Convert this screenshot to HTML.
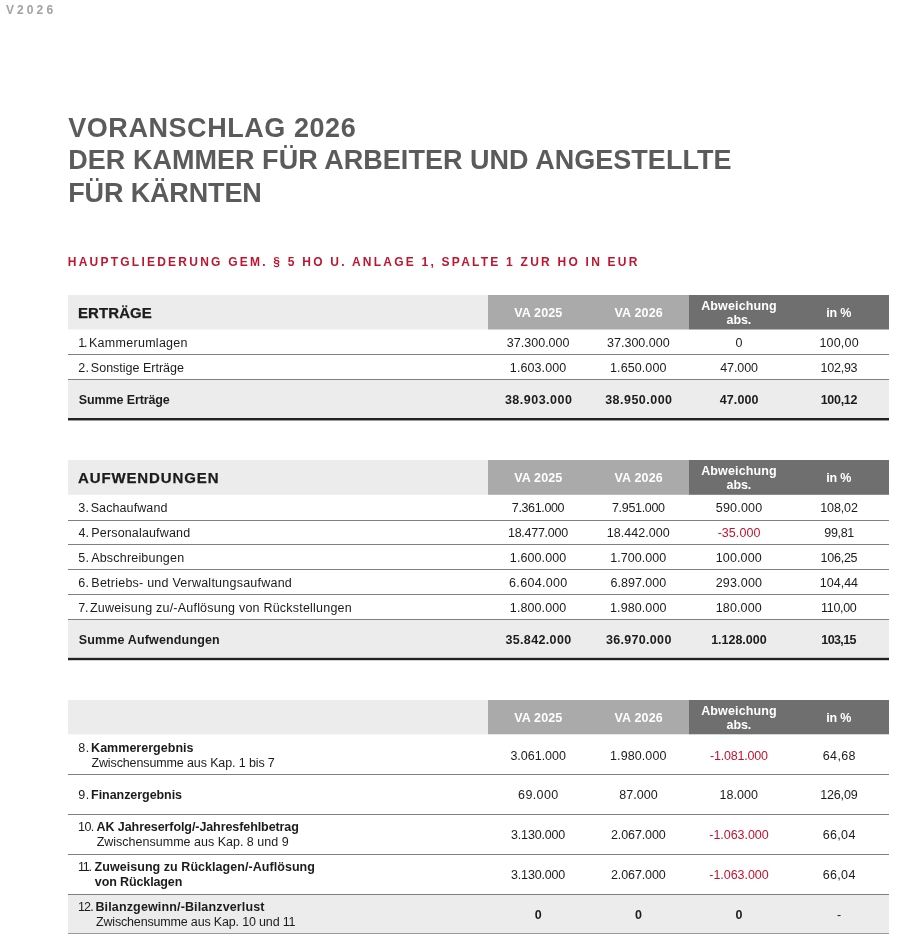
<!DOCTYPE html>
<html lang="de"><head><meta charset="utf-8"><title>Voranschlag 2026</title>
<style>
*{margin:0;padding:0;box-sizing:border-box}
html,body{width:900px;height:938px;background:#fff;overflow:hidden}
body{font-family:"Liberation Sans",sans-serif;color:#1c1c1c;position:relative;font-size:12.5px}
.x{position:absolute;white-space:nowrap;line-height:16px;height:16px}
.g{position:absolute}
.b{font-weight:bold}
.r{color:#c0142f}
.w{color:#fff;font-weight:bold}
.c{text-align:center}
</style></head><body>
<div class="g" style="left:68px;top:295px;width:420px;height:34px;background:#ececec"></div>
<div class="g" style="left:488px;top:295px;width:201px;height:34px;background:#aaaaaa"></div>
<div class="g" style="left:689px;top:295px;width:200px;height:34px;background:#6f6f6f"></div>
<div class="g" style="left:68px;top:329px;width:420px;height:1px;background:#f6f6f6"></div>
<div class="g" style="left:488px;top:329px;width:201px;height:1px;background:#d4d4d4"></div>
<div class="g" style="left:689px;top:329px;width:200px;height:1px;background:#b7b7b7"></div>
<div class="g" style="left:68px;top:354px;width:821px;height:1px;background:#808080"></div>
<div class="g" style="left:68px;top:379px;width:821px;height:1px;background:#808080"></div>
<div class="g" style="left:68px;top:380px;width:821px;height:38px;background:#ececec"></div>
<div class="g" style="left:68px;top:418px;width:821px;height:2px;background:#222"></div>
<div class="g" style="left:68px;top:420px;width:821px;height:1px;background:#9c9c9c"></div>
<div class="g" style="left:68px;top:460px;width:420px;height:34px;background:#ececec"></div>
<div class="g" style="left:488px;top:460px;width:201px;height:34px;background:#aaaaaa"></div>
<div class="g" style="left:689px;top:460px;width:200px;height:34px;background:#6f6f6f"></div>
<div class="g" style="left:68px;top:494px;width:420px;height:1px;background:#f0f0f0"></div>
<div class="g" style="left:488px;top:494px;width:201px;height:1px;background:#bbbbbb"></div>
<div class="g" style="left:689px;top:494px;width:200px;height:1px;background:#8c8c8c"></div>
<div class="g" style="left:68px;top:520px;width:821px;height:1px;background:#808080"></div>
<div class="g" style="left:68px;top:544px;width:821px;height:1px;background:#808080"></div>
<div class="g" style="left:68px;top:569px;width:821px;height:1px;background:#808080"></div>
<div class="g" style="left:68px;top:594px;width:821px;height:1px;background:#808080"></div>
<div class="g" style="left:68px;top:619px;width:821px;height:1px;background:#808080"></div>
<div class="g" style="left:68px;top:620px;width:821px;height:38px;background:#ececec"></div>
<div class="g" style="left:68px;top:657px;width:821px;height:1px;background:#c9c9c9"></div>
<div class="g" style="left:68px;top:658px;width:821px;height:2px;background:#222"></div>
<div class="g" style="left:68px;top:660px;width:821px;height:1px;background:#d0d0d0"></div>
<div class="g" style="left:68px;top:700px;width:420px;height:34px;background:#ececec"></div>
<div class="g" style="left:488px;top:700px;width:201px;height:34px;background:#aaaaaa"></div>
<div class="g" style="left:689px;top:700px;width:200px;height:34px;background:#6f6f6f"></div>
<div class="g" style="left:68px;top:734px;width:420px;height:1px;background:#f9f9f9"></div>
<div class="g" style="left:488px;top:734px;width:201px;height:1px;background:#e6e6e6"></div>
<div class="g" style="left:689px;top:734px;width:200px;height:1px;background:#d4d4d4"></div>
<div class="g" style="left:68px;top:894px;width:821px;height:39px;background:#ececec"></div>
<div class="g" style="left:68px;top:774px;width:821px;height:1px;background:#808080"></div>
<div class="g" style="left:68px;top:814px;width:821px;height:1px;background:#808080"></div>
<div class="g" style="left:68px;top:854px;width:821px;height:1px;background:#808080"></div>
<div class="g" style="left:68px;top:894px;width:821px;height:1px;background:#808080"></div>
<div class="g" style="left:68px;top:933px;width:821px;height:1px;background:#9a9a9a"></div>
<div id="t0" class="x b" style="top:305px;font-size:14px;line-height:16px;height:16px;letter-spacing:0.092px;transform:scaleX(1.07);transform-origin:0 0;-webkit-text-stroke:0.25px;left:77.75px;">ERTRÄGE</div>
<div id="t1" class="x w c" style="top:306px;font-size:12.5px;line-height:14px;height:14px;letter-spacing:0.133px;left:438.37px;width:200px;">VA 2025</div>
<div id="t2" class="x w c" style="top:306px;font-size:12.5px;line-height:14px;height:14px;letter-spacing:0.192px;left:538.72px;width:200px;">VA 2026</div>
<div id="t3" class="x w c" style="top:299px;font-size:12.5px;line-height:14px;height:14px;letter-spacing:0.133px;left:639.02px;width:200px;">Abweichung</div>
<div id="t4" class="x w c" style="top:313px;font-size:12.5px;line-height:14px;height:14px;letter-spacing:-0.067px;left:638.92px;width:200px;">abs.</div>
<div id="t5" class="x w c" style="top:306px;font-size:12.5px;line-height:14px;height:14px;letter-spacing:-0.167px;left:738.67px;width:200px;">in %</div>
<div id="t6" class="x" style="top:336px;font-size:12.5px;line-height:14px;height:14px;letter-spacing:-1.200px;left:78.15px;">1.</div>
<div id="t7" class="x" style="top:336px;font-size:12.5px;line-height:14px;height:14px;letter-spacing:0.279px;left:89.00px;">Kammerumlagen</div>
<div id="t8" class="x  c" style="top:336px;font-size:12.5px;line-height:14px;height:14px;letter-spacing:0.017px;left:438.18px;width:200px;">37.300.000</div>
<div id="t9" class="x  c" style="top:336px;font-size:12.5px;line-height:14px;height:14px;letter-spacing:0.006px;left:538.38px;width:200px;">37.300.000</div>
<div id="t10" class="x  c" style="top:336px;font-size:12.5px;line-height:14px;height:14px;left:639.00px;width:200px;">0</div>
<div id="t11" class="x  c" style="top:336px;font-size:12.5px;line-height:14px;height:14px;letter-spacing:0.180px;left:739.14px;width:200px;">100,00</div>
<div id="t12" class="x" style="top:361px;font-size:12.5px;line-height:14px;height:14px;letter-spacing:0.150px;left:78.35px;">2.</div>
<div id="t13" class="x" style="top:361px;font-size:12.5px;line-height:14px;height:14px;letter-spacing:-0.003px;left:90.85px;">Sonstige Erträge</div>
<div id="t14" class="x  c" style="top:361px;font-size:12.5px;line-height:14px;height:14px;letter-spacing:0.100px;left:438.10px;width:200px;">1.603.000</div>
<div id="t15" class="x  c" style="top:361px;font-size:12.5px;line-height:14px;height:14px;letter-spacing:0.087px;left:538.29px;width:200px;">1.650.000</div>
<div id="t16" class="x  c" style="top:361px;font-size:12.5px;line-height:14px;height:14px;letter-spacing:-0.090px;left:639.08px;width:200px;">47.000</div>
<div id="t17" class="x  c" style="top:361px;font-size:12.5px;line-height:14px;height:14px;letter-spacing:-0.240px;left:738.93px;width:200px;">102,93</div>
<div id="t18" class="x b" style="top:393px;font-size:12.5px;line-height:14px;height:14px;letter-spacing:-0.112px;left:78.75px;">Summe Erträge</div>
<div id="t19" class="x b c" style="top:393px;font-size:12.5px;line-height:14px;height:14px;letter-spacing:0.489px;left:438.67px;width:200px;">38.903.000</div>
<div id="t20" class="x b c" style="top:393px;font-size:12.5px;line-height:14px;height:14px;letter-spacing:0.478px;left:538.86px;width:200px;">38.950.000</div>
<div id="t21" class="x b c" style="top:393px;font-size:12.5px;line-height:14px;height:14px;letter-spacing:0.140px;left:639.20px;width:200px;">47.000</div>
<div id="t22" class="x b c" style="top:393px;font-size:12.5px;line-height:14px;height:14px;letter-spacing:-0.290px;left:738.91px;width:200px;">100,12</div>
<div id="t23" class="x b" style="top:470px;font-size:14px;line-height:16px;height:16px;letter-spacing:0.832px;transform:scaleX(1.07);transform-origin:0 0;-webkit-text-stroke:0.25px;left:78.25px;">AUFWENDUNGEN</div>
<div id="t24" class="x w c" style="top:471px;font-size:12.5px;line-height:14px;height:14px;letter-spacing:0.133px;left:438.37px;width:200px;">VA 2025</div>
<div id="t25" class="x w c" style="top:471px;font-size:12.5px;line-height:14px;height:14px;letter-spacing:0.192px;left:538.72px;width:200px;">VA 2026</div>
<div id="t26" class="x w c" style="top:464px;font-size:12.5px;line-height:14px;height:14px;letter-spacing:0.133px;left:639.02px;width:200px;">Abweichung</div>
<div id="t27" class="x w c" style="top:478px;font-size:12.5px;line-height:14px;height:14px;letter-spacing:-0.067px;left:638.92px;width:200px;">abs.</div>
<div id="t28" class="x w c" style="top:471px;font-size:12.5px;line-height:14px;height:14px;letter-spacing:-0.167px;left:738.67px;width:200px;">in %</div>
<div id="t29" class="x" style="top:501px;font-size:12.5px;line-height:14px;height:14px;letter-spacing:0.150px;left:78.35px;">3.</div>
<div id="t30" class="x" style="top:501px;font-size:12.5px;line-height:14px;height:14px;letter-spacing:0.095px;left:90.70px;">Sachaufwand</div>
<div id="t31" class="x  c" style="top:501px;font-size:12.5px;line-height:14px;height:14px;letter-spacing:-0.356px;left:438.00px;width:200px;">7.361.000</div>
<div id="t32" class="x  c" style="top:501px;font-size:12.5px;line-height:14px;height:14px;letter-spacing:-0.325px;left:538.34px;width:200px;">7.951.000</div>
<div id="t33" class="x  c" style="top:501px;font-size:12.5px;line-height:14px;height:14px;letter-spacing:0.217px;left:639.11px;width:200px;">590.000</div>
<div id="t34" class="x  c" style="top:501px;font-size:12.5px;line-height:14px;height:14px;letter-spacing:-0.100px;left:739.00px;width:200px;">108,02</div>
<div id="t35" class="x" style="top:526px;font-size:12.5px;line-height:14px;height:14px;letter-spacing:-0.100px;left:78.60px;">4.</div>
<div id="t36" class="x" style="top:526px;font-size:12.5px;line-height:14px;height:14px;letter-spacing:0.154px;left:91.35px;">Personalaufwand</div>
<div id="t37" class="x  c" style="top:526px;font-size:12.5px;line-height:14px;height:14px;letter-spacing:-0.267px;left:437.92px;width:200px;">18.477.000</div>
<div id="t38" class="x  c" style="top:526px;font-size:12.5px;line-height:14px;height:14px;letter-spacing:0.033px;left:538.27px;width:200px;">18.442.000</div>
<div id="t39" class="x r c" style="top:526px;font-size:12.5px;line-height:14px;height:14px;letter-spacing:0.050px;left:639.02px;width:200px;">-35.000</div>
<div id="t40" class="x  c" style="top:526px;font-size:12.5px;line-height:14px;height:14px;letter-spacing:-0.350px;left:739.13px;width:200px;">99,81</div>
<div id="t41" class="x" style="top:551px;font-size:12.5px;line-height:14px;height:14px;letter-spacing:0.150px;left:78.35px;">5.</div>
<div id="t42" class="x" style="top:551px;font-size:12.5px;line-height:14px;height:14px;letter-spacing:0.200px;left:91.15px;">Abschreibungen</div>
<div id="t43" class="x  c" style="top:551px;font-size:12.5px;line-height:14px;height:14px;letter-spacing:0.100px;left:438.10px;width:200px;">1.600.000</div>
<div id="t44" class="x  c" style="top:551px;font-size:12.5px;line-height:14px;height:14px;letter-spacing:0.025px;left:538.26px;width:200px;">1.700.000</div>
<div id="t45" class="x  c" style="top:551px;font-size:12.5px;line-height:14px;height:14px;letter-spacing:0.117px;left:638.81px;width:200px;">100.000</div>
<div id="t46" class="x  c" style="top:551px;font-size:12.5px;line-height:14px;height:14px;letter-spacing:-0.240px;left:738.93px;width:200px;">106,25</div>
<div id="t47" class="x" style="top:576px;font-size:12.5px;line-height:14px;height:14px;letter-spacing:0.300px;left:78.35px;">6.</div>
<div id="t48" class="x" style="top:576px;font-size:12.5px;line-height:14px;height:14px;letter-spacing:0.235px;left:91.35px;">Betriebs- und Verwaltungsaufwand</div>
<div id="t49" class="x  c" style="top:576px;font-size:12.5px;line-height:14px;height:14px;letter-spacing:0.319px;left:438.33px;width:200px;">6.604.000</div>
<div id="t50" class="x  c" style="top:576px;font-size:12.5px;line-height:14px;height:14px;letter-spacing:-0.006px;left:538.37px;width:200px;">6.897.000</div>
<div id="t51" class="x  c" style="top:576px;font-size:12.5px;line-height:14px;height:14px;letter-spacing:0.175px;left:638.96px;width:200px;">293.000</div>
<div id="t52" class="x  c" style="top:576px;font-size:12.5px;line-height:14px;height:14px;letter-spacing:0.010px;left:738.93px;width:200px;">104,44</div>
<div id="t53" class="x" style="top:601px;font-size:12.5px;line-height:14px;height:14px;letter-spacing:-0.300px;left:78.35px;">7.</div>
<div id="t54" class="x" style="top:601px;font-size:12.5px;line-height:14px;height:14px;letter-spacing:0.216px;left:89.95px;">Zuweisung zu/-Auflösung von Rückstellungen</div>
<div id="t55" class="x  c" style="top:601px;font-size:12.5px;line-height:14px;height:14px;letter-spacing:0.100px;left:438.10px;width:200px;">1.800.000</div>
<div id="t56" class="x  c" style="top:601px;font-size:12.5px;line-height:14px;height:14px;letter-spacing:0.087px;left:538.29px;width:200px;">1.980.000</div>
<div id="t57" class="x  c" style="top:601px;font-size:12.5px;line-height:14px;height:14px;letter-spacing:0.117px;left:638.81px;width:200px;">180.000</div>
<div id="t58" class="x  c" style="top:601px;font-size:12.5px;line-height:14px;height:14px;letter-spacing:-0.310px;left:738.77px;width:200px;">110,00</div>
<div id="t59" class="x b" style="top:633px;font-size:12.5px;line-height:14px;height:14px;letter-spacing:0.147px;left:78.75px;">Summe Aufwendungen</div>
<div id="t60" class="x b c" style="top:633px;font-size:12.5px;line-height:14px;height:14px;letter-spacing:0.361px;left:438.48px;width:200px;">35.842.000</div>
<div id="t61" class="x b c" style="top:633px;font-size:12.5px;line-height:14px;height:14px;letter-spacing:0.322px;left:538.79px;width:200px;">36.970.000</div>
<div id="t62" class="x b c" style="top:633px;font-size:12.5px;line-height:14px;height:14px;letter-spacing:-0.019px;left:638.87px;width:200px;">1.128.000</div>
<div id="t63" class="x b c" style="top:633px;font-size:12.5px;line-height:14px;height:14px;letter-spacing:-0.600px;left:738.63px;width:200px;">103,15</div>
<div id="t64" class="x w c" style="top:711px;font-size:12.5px;line-height:14px;height:14px;letter-spacing:0.133px;left:438.37px;width:200px;">VA 2025</div>
<div id="t65" class="x w c" style="top:711px;font-size:12.5px;line-height:14px;height:14px;letter-spacing:0.192px;left:538.72px;width:200px;">VA 2026</div>
<div id="t66" class="x w c" style="top:704px;font-size:12.5px;line-height:14px;height:14px;letter-spacing:0.133px;left:639.02px;width:200px;">Abweichung</div>
<div id="t67" class="x w c" style="top:718px;font-size:12.5px;line-height:14px;height:14px;letter-spacing:-0.067px;left:638.92px;width:200px;">abs.</div>
<div id="t68" class="x w c" style="top:711px;font-size:12.5px;line-height:14px;height:14px;letter-spacing:-0.167px;left:738.67px;width:200px;">in %</div>
<div id="t69" class="x" style="top:741px;font-size:12.5px;line-height:14px;height:14px;letter-spacing:0.700px;left:78.20px;">8.</div>
<div id="t70" class="x b" style="top:741px;font-size:12.5px;line-height:14px;height:14px;letter-spacing:0.023px;left:91.10px;">Kammerergebnis</div>
<div id="t71" class="x" style="top:756px;font-size:12.5px;line-height:14px;height:14px;letter-spacing:-0.121px;left:91.45px;">Zwischensumme aus Kap. 1 bis 7</div>
<div id="t72" class="x  c" style="top:749px;font-size:12.5px;line-height:14px;height:14px;letter-spacing:-0.006px;left:438.17px;width:200px;">3.061.000</div>
<div id="t73" class="x  c" style="top:749px;font-size:12.5px;line-height:14px;height:14px;letter-spacing:0.087px;left:538.29px;width:200px;">1.980.000</div>
<div id="t74" class="x r c" style="top:749px;font-size:12.5px;line-height:14px;height:14px;letter-spacing:-0.189px;left:638.91px;width:200px;">-1.081.000</div>
<div id="t75" class="x  c" style="top:749px;font-size:12.5px;line-height:14px;height:14px;letter-spacing:0.388px;left:739.37px;width:200px;">64,68</div>
<div id="t76" class="x" style="top:788px;font-size:12.5px;line-height:14px;height:14px;letter-spacing:0.700px;left:78.20px;">9.</div>
<div id="t77" class="x b" style="top:788px;font-size:12.5px;line-height:14px;height:14px;letter-spacing:-0.054px;left:91.10px;">Finanzergebnis</div>
<div id="t78" class="x  c" style="top:788px;font-size:12.5px;line-height:14px;height:14px;letter-spacing:0.390px;left:438.37px;width:200px;">69.000</div>
<div id="t79" class="x  c" style="top:788px;font-size:12.5px;line-height:14px;height:14px;letter-spacing:0.060px;left:538.53px;width:200px;">87.000</div>
<div id="t80" class="x  c" style="top:788px;font-size:12.5px;line-height:14px;height:14px;letter-spacing:0.060px;left:638.78px;width:200px;">18.000</div>
<div id="t81" class="x  c" style="top:788px;font-size:12.5px;line-height:14px;height:14px;letter-spacing:-0.150px;left:738.85px;width:200px;">126,09</div>
<div id="t82" class="x" style="top:820px;font-size:12.5px;line-height:14px;height:14px;letter-spacing:-0.500px;left:77.95px;">10.</div>
<div id="t83" class="x b" style="top:820px;font-size:12.5px;line-height:14px;height:14px;letter-spacing:-0.083px;left:96.60px;">AK Jahreserfolg/-Jahresfehlbetrag</div>
<div id="t84" class="x" style="top:835px;font-size:12.5px;line-height:14px;height:14px;letter-spacing:0.007px;left:96.65px;">Zwischensumme aus Kap. 8 und 9</div>
<div id="t85" class="x  c" style="top:828px;font-size:12.5px;line-height:14px;height:14px;letter-spacing:-0.169px;left:438.09px;width:200px;">3.130.000</div>
<div id="t86" class="x  c" style="top:828px;font-size:12.5px;line-height:14px;height:14px;letter-spacing:-0.119px;left:538.32px;width:200px;">2.067.000</div>
<div id="t87" class="x r c" style="top:828px;font-size:12.5px;line-height:14px;height:14px;letter-spacing:-0.044px;left:638.98px;width:200px;">-1.063.000</div>
<div id="t88" class="x  c" style="top:828px;font-size:12.5px;line-height:14px;height:14px;letter-spacing:0.325px;left:739.21px;width:200px;">66,04</div>
<div id="t89" class="x" style="top:860px;font-size:12.5px;line-height:14px;height:14px;letter-spacing:-1.250px;left:77.95px;">11.</div>
<div id="t90" class="x b" style="top:860px;font-size:12.5px;line-height:14px;height:14px;letter-spacing:0.048px;left:94.60px;">Zuweisung zu Rücklagen/-Auflösung</div>
<div id="t91" class="x b" style="top:875px;font-size:12.5px;line-height:14px;height:14px;letter-spacing:-0.121px;left:94.85px;">von Rücklagen</div>
<div id="t92" class="x  c" style="top:868px;font-size:12.5px;line-height:14px;height:14px;letter-spacing:-0.169px;left:438.09px;width:200px;">3.130.000</div>
<div id="t93" class="x  c" style="top:868px;font-size:12.5px;line-height:14px;height:14px;letter-spacing:-0.119px;left:538.32px;width:200px;">2.067.000</div>
<div id="t94" class="x r c" style="top:868px;font-size:12.5px;line-height:14px;height:14px;letter-spacing:-0.044px;left:638.98px;width:200px;">-1.063.000</div>
<div id="t95" class="x  c" style="top:868px;font-size:12.5px;line-height:14px;height:14px;letter-spacing:0.325px;left:739.21px;width:200px;">66,04</div>
<div id="t96" class="x" style="top:900px;font-size:12.5px;line-height:14px;height:14px;letter-spacing:-0.825px;left:77.95px;">12.</div>
<div id="t97" class="x b" style="top:900px;font-size:12.5px;line-height:14px;height:14px;letter-spacing:0.144px;left:95.45px;">Bilanzgewinn/-Bilanzverlust</div>
<div id="t98" class="x" style="top:915px;font-size:12.5px;line-height:14px;height:14px;letter-spacing:-0.165px;left:95.95px;">Zwischensumme aus Kap. 10 und 11</div>
<div id="t99" class="x b c" style="top:908px;font-size:12.5px;line-height:14px;height:14px;left:438.20px;width:200px;">0</div>
<div id="t100" class="x b c" style="top:908px;font-size:12.5px;line-height:14px;height:14px;left:538.50px;width:200px;">0</div>
<div id="t101" class="x b c" style="top:908px;font-size:12.5px;line-height:14px;height:14px;left:639.00px;width:200px;">0</div>
<div id="t102" class="x  c" style="top:908px;font-size:12.5px;line-height:14px;height:14px;left:739.20px;width:200px;">-</div>
<div id="t103" class="x b" style="top:3px;font-size:12px;line-height:14px;height:14px;letter-spacing:3.088px;color:#a2a2a2;left:6.00px;">V2026</div>
<div id="t104" class="x b" style="top:113px;font-size:27px;line-height:30px;height:30px;letter-spacing:0.563px;color:#5b5b5b;left:68.20px;">VORANSCHLAG 2026</div>
<div id="t105" class="x b" style="top:145px;font-size:27px;line-height:30px;height:30px;letter-spacing:0.033px;color:#5b5b5b;left:68.25px;">DER KAMMER FÜR ARBEITER UND ANGESTELLTE</div>
<div id="t106" class="x b" style="top:178px;font-size:27px;line-height:30px;height:30px;letter-spacing:-0.150px;color:#5b5b5b;left:68.25px;">FÜR KÄRNTEN</div>
<div id="t107" class="x b" style="top:255px;font-size:12px;line-height:14px;height:14px;letter-spacing:2.234px;color:#c0142f;left:67.75px;">HAUPTGLIEDERUNG GEM. § 5 HO U. ANLAGE 1, SPALTE 1 ZUR HO IN EUR</div>
</body></html>
